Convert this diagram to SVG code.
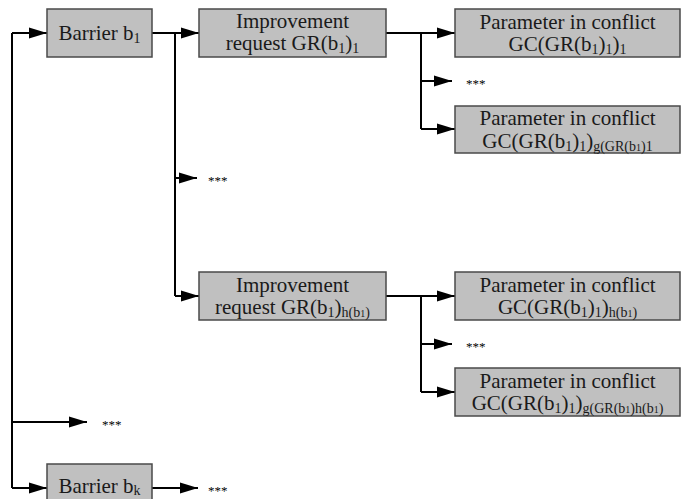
<svg xmlns="http://www.w3.org/2000/svg" width="681" height="499" viewBox="0 0 681 499">
  <style>
    .box { fill: #c0c0c0; stroke: #4a4a4a; stroke-width: 1.5; }
    .lbl { font-family: "Liberation Serif", "Times New Roman", serif; font-size: 21px; fill: #1a1a1a; text-anchor: middle; }
    .sub { font-size: 14px; }
    .sub2 { font-size: 10px; }
    .dots { font-family: "Liberation Serif", serif; font-size: 13px; fill: #000; }
    .wire { fill: none; stroke: #000; stroke-width: 2; }
    .arr { fill: none; stroke: #000; stroke-width: 2; marker-end: url(#tip); }
  </style>
  <defs>
    <marker id="tip" markerUnits="userSpaceOnUse" markerWidth="18" markerHeight="12" refX="18" refY="6" orient="auto">
      <path d="M0,0.5 L18,6 L0,11.5 Z" fill="#000"/>
    </marker>
  </defs>

  <g id="connectors">
    <!-- main trunk on the left -->
    <path class="wire" d="M12,33 V488"/>
    <path class="arr" d="M12,33 H47"/>
    <path class="arr" d="M12,422 H87"/>
    <path class="arr" d="M12,488 H47"/>
    <!-- from barrier b1 -->
    <path class="arr" d="M152,33 H199"/>
    <path class="wire" d="M175,33 V296"/>
    <path class="arr" d="M175,178 H197"/>
    <path class="arr" d="M175,296 H199"/>
    <!-- from first improvement request -->
    <path class="arr" d="M386,33 H455"/>
    <path class="wire" d="M421,33 V129"/>
    <path class="arr" d="M421,81 H452"/>
    <path class="arr" d="M421,129 H455"/>
    <!-- from last improvement request -->
    <path class="arr" d="M386,296 H455"/>
    <path class="wire" d="M421,296 V392"/>
    <path class="arr" d="M421,344 H452"/>
    <path class="arr" d="M421,392 H455"/>
    <!-- from barrier bk -->
    <path class="arr" d="M152,488 H198"/>
  </g>

  <g id="barrier-b1">
    <rect class="box" x="47" y="9" width="105" height="48"/>
    <text class="lbl" x="99.5" y="40">Barrier b<tspan class="sub" dy="3">1</tspan></text>
  </g>

  <g id="request-1">
    <rect class="box" x="199" y="9" width="187" height="48"/>
    <text class="lbl" x="292.5" y="28">Improvement</text>
    <text class="lbl" x="292.5" y="50">request GR(b<tspan class="sub" dy="3">1</tspan><tspan dy="-3">)</tspan><tspan class="sub" dy="3">1</tspan></text>
  </g>

  <g id="conflict-1-1">
    <rect class="box" x="455" y="9" width="225" height="48"/>
    <text class="lbl" x="567.5" y="29">Parameter in conflict</text>
    <text class="lbl" x="567.5" y="51">GC(GR(b<tspan class="sub" dy="3">1</tspan><tspan dy="-3">)</tspan><tspan class="sub" dy="3">1</tspan><tspan dy="-3">)</tspan><tspan class="sub" dy="3">1</tspan></text>
  </g>

  <g id="conflict-1-g">
    <rect class="box" x="455" y="106" width="225" height="47"/>
    <text class="lbl" x="567.5" y="125">Parameter in conflict</text>
    <text class="lbl" x="567.5" y="148">GC(GR(b<tspan class="sub" dy="3">1</tspan><tspan dy="-3">)</tspan><tspan class="sub" dy="3">1</tspan><tspan dy="-3">)</tspan><tspan class="sub" dy="3">g(GR(b</tspan><tspan class="sub2">1</tspan><tspan class="sub">)1</tspan></text>
  </g>

  <g id="request-h">
    <rect class="box" x="199" y="272" width="187" height="48"/>
    <text class="lbl" x="292.5" y="292">Improvement</text>
    <text class="lbl" x="292.5" y="314">request GR(b<tspan class="sub" dy="3">1</tspan><tspan dy="-3">)</tspan><tspan class="sub" dy="3">h(b</tspan><tspan class="sub2">1</tspan><tspan class="sub">)</tspan></text>
  </g>

  <g id="conflict-h-1">
    <rect class="box" x="455" y="272" width="225" height="48"/>
    <text class="lbl" x="567.5" y="292">Parameter in conflict</text>
    <text class="lbl" x="567.5" y="314">GC(GR(b<tspan class="sub" dy="3">1</tspan><tspan dy="-3">)</tspan><tspan class="sub" dy="3">1</tspan><tspan dy="-3">)</tspan><tspan class="sub" dy="3">h(b</tspan><tspan class="sub2">1</tspan><tspan class="sub">)</tspan></text>
  </g>

  <g id="conflict-h-g">
    <rect class="box" x="455" y="368" width="225" height="48"/>
    <text class="lbl" x="567.5" y="388">Parameter in conflict</text>
    <text class="lbl" x="567.5" y="410">GC(GR(b<tspan class="sub" dy="3">1</tspan><tspan dy="-3">)</tspan><tspan class="sub" dy="3">1</tspan><tspan dy="-3">)</tspan><tspan class="sub" dy="3">g(GR(b</tspan><tspan class="sub2">1</tspan><tspan class="sub">)h(b</tspan><tspan class="sub2">1</tspan><tspan class="sub">)</tspan></text>
  </g>

  <g id="barrier-bk">
    <rect class="box" x="47" y="464" width="105" height="48"/>
    <text class="lbl" x="99.5" y="493">Barrier b<tspan class="sub" dy="2">k</tspan></text>
  </g>

  <g id="ellipses">
    <text class="dots" x="466" y="88">***</text>
    <text class="dots" x="208" y="185">***</text>
    <text class="dots" x="466" y="351">***</text>
    <text class="dots" x="102" y="429">***</text>
    <text class="dots" x="208" y="495">***</text>
  </g>
</svg>
